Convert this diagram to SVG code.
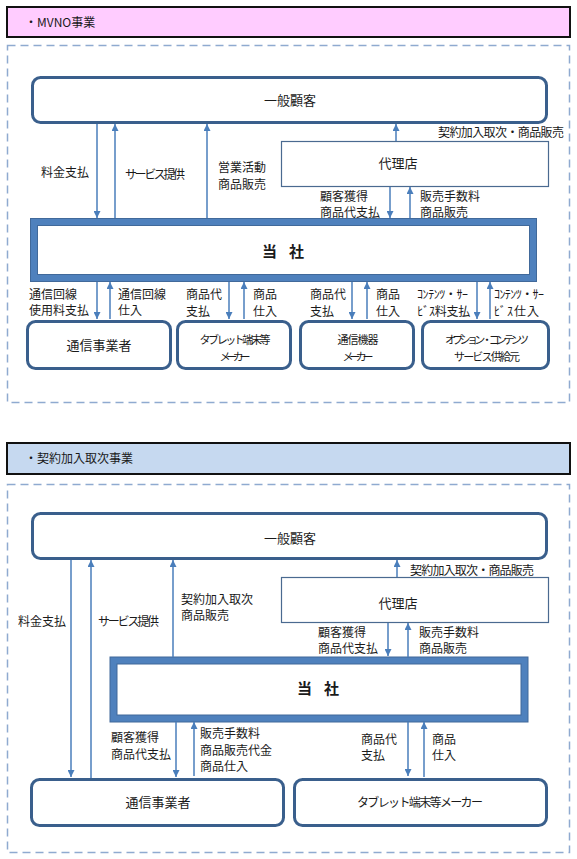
<svg xmlns="http://www.w3.org/2000/svg" width="577" height="859" viewBox="0 0 577 859">
<style>
text{font-family:"Noto Sans CJK JP","Noto Sans",sans-serif;fill:#1a1a1a;}
.lb{font-size:12px;}
.nd{font-size:13px;text-anchor:middle;}
.sm{font-size:11px;text-anchor:middle;}
.co{font-size:15px;font-weight:bold;text-anchor:middle;}
.node{fill:#fff;stroke:#3A5F8C;stroke-width:3;}
.agent{fill:#fff;stroke:#4A6A90;stroke-width:1.2;}
.corp{fill:#fff;stroke:#4F81BD;stroke-width:7;}
.edge{fill:none;stroke:#41699A;stroke-width:1;}
.dash{fill:none;stroke:#8FAAD0;stroke-width:1.5;stroke-dasharray:8 5;}
.hd{stroke:#111;stroke-width:2;}
.ar{stroke:#4A7EBB;stroke-width:1.5;fill:none;marker-end:url(#ah);}
</style>
<defs>
<marker id="ah" viewBox="0 0 10 10" refX="10" refY="5" markerWidth="7" markerHeight="7" markerUnits="userSpaceOnUse" orient="auto"><path d="M0,0 L10,5 L0,10z" fill="#4A7EBB"/></marker>
</defs>
<rect width="577" height="859" fill="#fff"/>

<!-- Section 1 -->
<g id="header1">
<rect class="hd" x="7" y="7" width="563" height="30" fill="#FFCCFF"/>
<text class="lb" x="25" y="27">・MVNO事業</text>
</g>
<rect id="frame1" class="dash" x="7.5" y="45.5" width="562" height="357"/>

<g id="s1-customer">
<rect class="node" x="32.5" y="77.5" width="514" height="45" rx="8"/>
<text class="nd" x="290" y="105">一般顧客</text>
</g>
<g id="s1-agent">
<rect class="agent" x="281.5" y="141.5" width="267" height="45"/>
<text class="nd" x="398" y="168">代理店</text>
</g>
<g id="s1-corp">
<rect class="corp" x="34" y="222" width="499" height="56"/>
<rect class="edge" x="30.5" y="218.5" width="506" height="63"/>
<rect class="edge" x="37.5" y="225.5" width="492" height="49"/>
<text class="co" x="283" y="257" textLength="42">当 社</text>
</g>
<g id="s1-carrier">
<rect class="node" x="27.5" y="321.5" width="143" height="47" rx="8"/>
<text class="nd" x="99" y="350">通信事業者</text>
</g>
<g id="s1-tablet">
<rect class="node" x="177.5" y="321.5" width="113" height="47" rx="8"/>
<text class="sm" x="235" y="344" textLength="71">タブレット端末等</text>
<text class="sm" x="235" y="361" textLength="31">メーカー</text>
</g>
<g id="s1-device">
<rect class="node" x="300.5" y="321.5" width="113" height="47" rx="8"/>
<text class="sm" x="358" y="344" textLength="41">通信機器</text>
<text class="sm" x="358" y="361" textLength="31">メーカー</text>
</g>
<g id="s1-content">
<rect class="node" x="422.5" y="321.5" width="126" height="47" rx="8"/>
<text class="sm" x="487" y="344" textLength="84">オプション・コンテンツ</text>
<text class="sm" x="487" y="361" textLength="66">サービス供給元</text>
</g>

<g id="s1-connectors">
<line class="ar" x1="97" y1="124" x2="97" y2="218"/>
<line class="ar" x1="115" y1="218" x2="115" y2="124"/>
<line class="ar" x1="207" y1="218" x2="207" y2="124"/>
<line class="ar" x1="396" y1="141" x2="396" y2="124"/>
<line class="ar" x1="390" y1="187" x2="390" y2="218"/>
<line class="ar" x1="410" y1="218" x2="410" y2="187"/>
<line class="ar" x1="97" y1="282" x2="97" y2="319"/>
<line class="ar" x1="110" y1="319" x2="110" y2="282"/>
<line class="ar" x1="229" y1="282" x2="229" y2="319"/>
<line class="ar" x1="244" y1="319" x2="244" y2="282"/>
<line class="ar" x1="352" y1="282" x2="352" y2="319"/>
<line class="ar" x1="367" y1="319" x2="367" y2="282"/>
<line class="ar" x1="477" y1="282" x2="477" y2="319"/>
<line class="ar" x1="490" y1="319" x2="490" y2="282"/>
</g>
<g id="s1-labels">
<text class="lb" x="41" y="177">料金支払</text>
<text class="lb" x="125" y="179" textLength="60">サービス提供</text>
<text class="lb" x="218" y="172">営業活動</text>
<text class="lb" x="218" y="189">商品販売</text>
<text class="lb" x="438" y="137" textLength="126">契約加入取次・商品販売</text>
<text class="lb" x="320" y="201">顧客獲得</text>
<text class="lb" x="320" y="217">商品代支払</text>
<text class="lb" x="420" y="201">販売手数料</text>
<text class="lb" x="420" y="217">商品販売</text>
<text class="lb" x="29" y="299">通信回線</text>
<text class="lb" x="29" y="315">使用料支払</text>
<text class="lb" x="118" y="299">通信回線</text>
<text class="lb" x="118" y="315">仕入</text>
<text class="lb" x="186" y="299">商品代</text>
<text class="lb" x="186" y="316">支払</text>
<text class="lb" x="253" y="299">商品</text>
<text class="lb" x="253" y="316">仕入</text>
<text class="lb" x="310" y="299">商品代</text>
<text class="lb" x="310" y="316">支払</text>
<text class="lb" x="376" y="299">商品</text>
<text class="lb" x="376" y="316">仕入</text>
<text class="lb" x="417" y="299" textLength="51">ｺﾝﾃﾝﾂ・ｻｰ</text>
<text class="lb" x="417" y="316" textLength="53">ﾋﾞｽ料支払</text>
<text class="lb" x="494" y="299" textLength="50">ｺﾝﾃﾝﾂ・ｻｰ</text>
<text class="lb" x="494" y="316" textLength="45">ﾋﾞｽ仕入</text>
</g>

<!-- Section 2 -->
<g id="header2">
<rect class="hd" x="7" y="443" width="563" height="31" fill="#C6D9F0"/>
<text class="lb" x="25" y="463">・契約加入取次事業</text>
</g>
<rect id="frame2" class="dash" x="7.5" y="484.5" width="562" height="368"/>

<g id="s2-customer">
<rect class="node" x="32.5" y="513.5" width="514" height="45" rx="8"/>
<text class="nd" x="290" y="543">一般顧客</text>
</g>
<g id="s2-agent">
<rect class="agent" x="281.5" y="577.5" width="267" height="45"/>
<text class="nd" x="398" y="608">代理店</text>
</g>
<g id="s2-corp">
<rect class="corp" x="113.5" y="660.5" width="411" height="58"/>
<rect class="edge" x="110" y="657" width="418" height="65"/>
<rect class="edge" x="117" y="664" width="404" height="51"/>
<text class="co" x="318" y="694" textLength="42">当 社</text>
</g>
<g id="s2-carrier">
<rect class="node" x="31.5" y="779.5" width="252" height="46" rx="8"/>
<text class="nd" x="158" y="807">通信事業者</text>
</g>
<g id="s2-tablet">
<rect class="node" x="294.5" y="779.5" width="252" height="46" rx="8"/>
<text class="nd" x="420" y="807" textLength="126" style="font-size:12px">タブレット端末等メーカー</text>
</g>

<g id="s2-connectors">
<line class="ar" x1="71" y1="560" x2="71" y2="777"/>
<line class="ar" x1="91" y1="778" x2="91" y2="560"/>
<line class="ar" x1="173" y1="657" x2="173" y2="560"/>
<line class="ar" x1="397" y1="577" x2="397" y2="560"/>
<line class="ar" x1="388" y1="623" x2="388" y2="656"/>
<line class="ar" x1="408" y1="657" x2="408" y2="623"/>
<line class="ar" x1="176" y1="722" x2="176" y2="777"/>
<line class="ar" x1="194" y1="776" x2="194" y2="722"/>
<line class="ar" x1="408" y1="722" x2="408" y2="776"/>
<line class="ar" x1="424" y1="777" x2="424" y2="722"/>
</g>
<g id="s2-labels">
<text class="lb" x="18" y="626">料金支払</text>
<text class="lb" x="98" y="626" textLength="61">サービス提供</text>
<text class="lb" x="181" y="604">契約加入取次</text>
<text class="lb" x="181" y="620">商品販売</text>
<text class="lb" x="410" y="575" textLength="124">契約加入取次・商品販売</text>
<text class="lb" x="318" y="637">顧客獲得</text>
<text class="lb" x="318" y="653">商品代支払</text>
<text class="lb" x="419" y="637">販売手数料</text>
<text class="lb" x="419" y="653">商品販売</text>
<text class="lb" x="111" y="742">顧客獲得</text>
<text class="lb" x="111" y="759">商品代支払</text>
<text class="lb" x="200" y="738">販売手数料</text>
<text class="lb" x="200" y="755">商品販売代金</text>
<text class="lb" x="200" y="771">商品仕入</text>
<text class="lb" x="361" y="744">商品代</text>
<text class="lb" x="361" y="760">支払</text>
<text class="lb" x="432" y="744">商品</text>
<text class="lb" x="432" y="760">仕入</text>
</g>
</svg>
